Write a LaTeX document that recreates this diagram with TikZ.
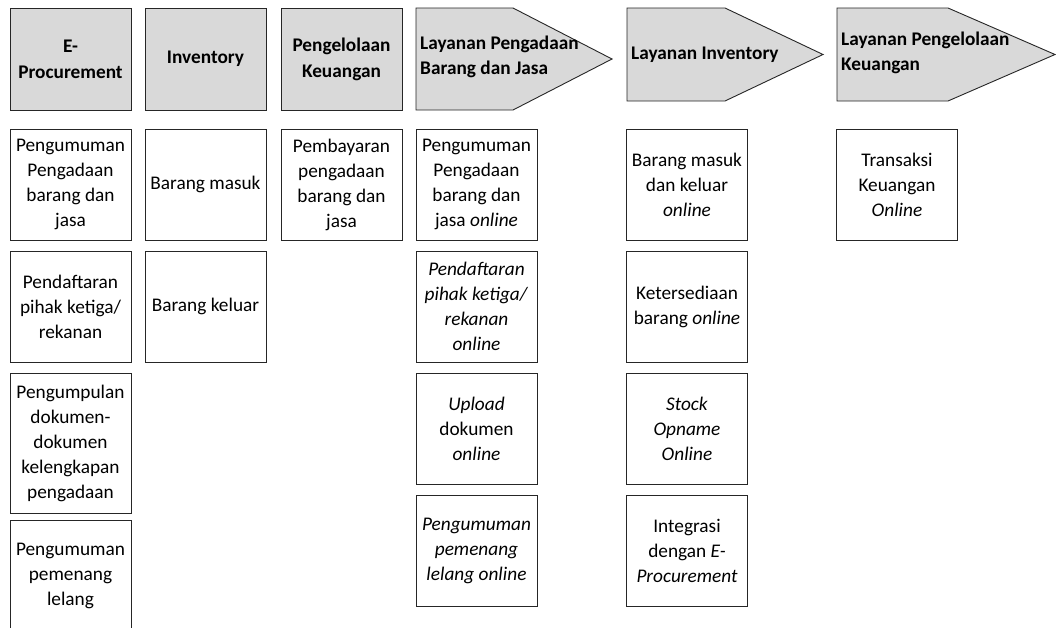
\documentclass[tikz,border=0pt]{standalone}
\usepackage{fontspec}
\setmainfont{Carlito}
\definecolor{headgray}{HTML}{D9D9D9}
\definecolor{edge}{HTML}{262626}
\begin{document}
\begin{tikzpicture}[x=1pt,y=-1pt,
  every node/.style={font=\fontsize{19.3}{25}\selectfont, inner sep=0pt},
  item/.style={draw=edge, line width=0.9pt, align=center,
    minimum width=121pt, minimum height=111pt},
  tallitem/.style={item, minimum height=140pt},
  head/.style={item, fill=headgray, minimum height=102pt,
    font=\fontsize{19.3}{26}\selectfont\bfseries},
  arrowhead/.style={draw=edge, fill=headgray, line width=0.9pt, line join=miter},
  arrowtext/.style={anchor=west, align=left,
    font=\fontsize{19.3}{25}\selectfont\bfseries}
]
\clip (0,0) rectangle (1056,627);
\fill[white] (0,0) rectangle (1056,627);

% ---- column headers (current processes) ----
\node[head] (hEproc) at (70.5,59)  {E-\\Procurement};
\node[head] (hInv)   at (205.5,59) {Inventory};
\node[head] (hKeu)   at (341.5,59) {Pengelolaan\\Keuangan};

% ---- column headers (services), drawn as arrow-shaped pentagons ----
\draw[arrowhead] (416,8) -- (513,8) -- (612,59) -- (513,110) -- (416,110) -- cycle;
\node[arrowtext] (tPengadaan) at (420,57) {Layanan Pengadaan\\Barang dan Jasa};

\draw[arrowhead] (627,8) -- (725,8) -- (823,54.5) -- (725,101) -- (627,101) -- cycle;
\node[arrowtext] (tInventory) at (631,54.5) {Layanan Inventory};

\draw[arrowhead] (837,8) -- (948,8) -- (1055,54.5) -- (948,101) -- (837,101) -- cycle;
\node[arrowtext] (tKeuangan) at (841,53) {Layanan Pengelolaan\\Keuangan};

% ---- E-Procurement ----
\node[item] (e1) at (70.5,184.5) {Pengumuman\\Pengadaan\\barang dan\\jasa};
\node[item] (e2) at (70.5,306.5) {Pendaftaran\\pihak ketiga/\\rekanan};
\node[tallitem] (e3) at (70.5,443) {Pengumpulan\\dokumen-\\dokumen\\kelengkapan\\pengadaan};
\node[item] (e4) at (70.5,575.5) {Pengumuman\\pemenang\\lelang};

% ---- Inventory ----
\node[item] (i1) at (205.5,184.5) {Barang masuk};
\node[item] (i2) at (205.5,306.5) {Barang keluar};

% ---- Pengelolaan Keuangan ----
\node[item] (k1) at (341.5,184.5) {Pembayaran\\pengadaan\\barang dan\\jasa};

% ---- Layanan Pengadaan Barang dan Jasa ----
\node[item] (lp1) at (476.5,184.5) {Pengumuman\\Pengadaan\\barang dan\\jasa \textit{online}};
\node[item] (lp2) at (476.5,306.5) {\textit{Pendaftaran}\\\textit{pihak ketiga/}\\\textit{rekanan}\\\textit{online}};
\node[item] (lp3) at (476.5,428.5) {\textit{Upload}\\dokumen\\\textit{online}};
\node[item] (lp4) at (476.5,550.5) {\textit{Pengumuman}\\\textit{pemenang}\\\textit{lelang online}};

% ---- Layanan Inventory ----
\node[item] (li1) at (687,184.5) {Barang masuk\\dan keluar\\\textit{online}};
\node[item] (li2) at (687,306.5) {Ketersediaan\\barang \textit{online}};
\node[item] (li3) at (687,428.5) {\textit{Stock}\\\textit{Opname}\\\textit{Online}};
\node[item] (li4) at (687,550.5) {Integrasi\\dengan \textit{E-}\\\textit{Procurement}};

% ---- Layanan Pengelolaan Keuangan ----
\node[item] (lk1) at (897,184.5) {Transaksi\\Keuangan\\\textit{Online}};
\end{tikzpicture}
\end{document}
